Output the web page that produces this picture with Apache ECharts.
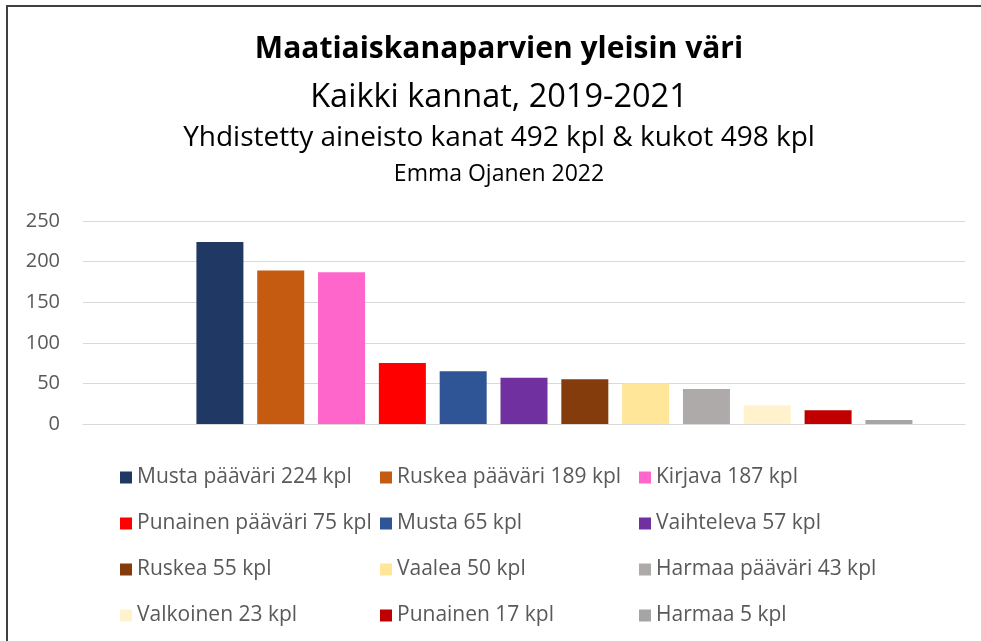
<!DOCTYPE html>
<html>
<head>
<meta charset="utf-8">
<script src="https://cdn.jsdelivr.net/npm/echarts@6/dist/echarts.min.js"></script>
<style>
  html, body { margin: 0; padding: 0; background: #fff; overflow: hidden; }
  #chart-container { width: 981px; height: 641px; }
  .edge { position: absolute; background: #3f3f3f; pointer-events: none; }
  #edge-top { left: 6px; top: 5px; width: 975px; height: 2px; }
  #edge-left { left: 6px; top: 5px; width: 2px; height: 636px; }
</style>
</head>
<body>
<div id="chart-container"></div>
<div class="edge" id="edge-top"></div>
<div class="edge" id="edge-left"></div>
<script>
var dom = document.getElementById("chart-container");
var myChart = echarts.init(dom, null, { renderer: "canvas" });

// data
const colorNames = [
  "Musta pääväri 224 kpl", "Ruskea pääväri 189 kpl", "Kirjava 187 kpl",
  "Punainen pääväri 75 kpl", "Musta 65 kpl", "Vaihteleva 57 kpl",
  "Ruskea 55 kpl", "Vaalea 50 kpl", "Harmaa pääväri 43 kpl",
  "Valkoinen 23 kpl", "Punainen 17 kpl", "Harmaa 5 kpl"
];
const counts = [224, 189, 187, 75, 65, 57, 55, 50, 43, 23, 17, 5];
const barColors = [
  "#203864", "#C55A11", "#FF66CC",
  "#FF0000", "#2F5597", "#7030A0",
  "#843C0C", "#FFE699", "#AEAAAA",
  "#FFF2CC", "#C00000", "#A5A5A5"
];
const yTicks = [0, 50, 100, 150, 200, 250];

const font = "'Open Sans', 'Noto Sans', sans-serif";

// the original sheet has an empty first column, it keeps the first slot free
const series = [{
  name: "",
  type: "bar",
  barWidth: 47,
  barGap: "29.4%",
  data: ["-"]
}];
colorNames.forEach(function (name, i) {
  series.push({
    name: name,
    type: "bar",
    barWidth: 47,
    barGap: "29.4%",
    itemStyle: { color: barColors[i] },
    data: [counts[i]]
  });
});

// legend in three columns, four rows
const legendCols = [120, 380, 639];
const legends = legendCols.map(function (x, c) {
  return {
    orient: "vertical",
    left: x,
    top: 467,
    padding: 0,
    itemWidth: 12,
    itemHeight: 12,
    itemGap: 25,
    icon: "rect",
    selectedMode: false,
    textStyle: { fontFamily: font, fontSize: 21, color: "#595959", lineHeight: 20 },
    data: colorNames.filter(function (n, i) { return i % 3 === c; })
  };
});

function titleLine(text, top, size, bold) {
  return {
    text: text,
    left: 499,
    top: top,
    padding: 0,
    textAlign: "center",
    textStyle: {
      fontFamily: font,
      fontSize: size,
      fontWeight: bold ? "bold" : "normal",
      color: "#000000"
    }
  };
}

var option = {
  animation: false,
  title: [
    titleLine("Maatiaiskanaparvien yleisin väri", 34, 30, true),
    titleLine("Kaikki kannat, 2019-2021", 81, 32.5, false),
    titleLine("Yhdistetty aineisto kanat 492 kpl & kukot 498 kpl", 124.5, 28, false),
    titleLine("Emma Ojanen 2022", 163, 23, false)
  ],
  legend: legends,
  grid: {
    left: 83,
    right: 16,
    top: 221,
    bottom: 217,
    containLabel: false
  },
  xAxis: {
    type: "category",
    data: [""],
    axisLine: { show: true, lineStyle: { color: "#d9d9d9", width: 1 } },
    axisTick: { show: false },
    axisLabel: { show: false }
  },
  yAxis: {
    type: "value",
    min: yTicks[0],
    max: yTicks[yTicks.length - 1],
    interval: 50,
    axisLine: { show: false },
    axisTick: { show: false },
    axisLabel: { fontFamily: font, fontSize: 20, color: "#595959", margin: 23 },
    splitLine: { lineStyle: { color: "#d9d9d9", width: 1 } }
  },
  series: series
};

if (option && typeof option === "object") {
  myChart.setOption(option);
}

window.addEventListener("resize", myChart.resize);
</script>
</body>
</html>
